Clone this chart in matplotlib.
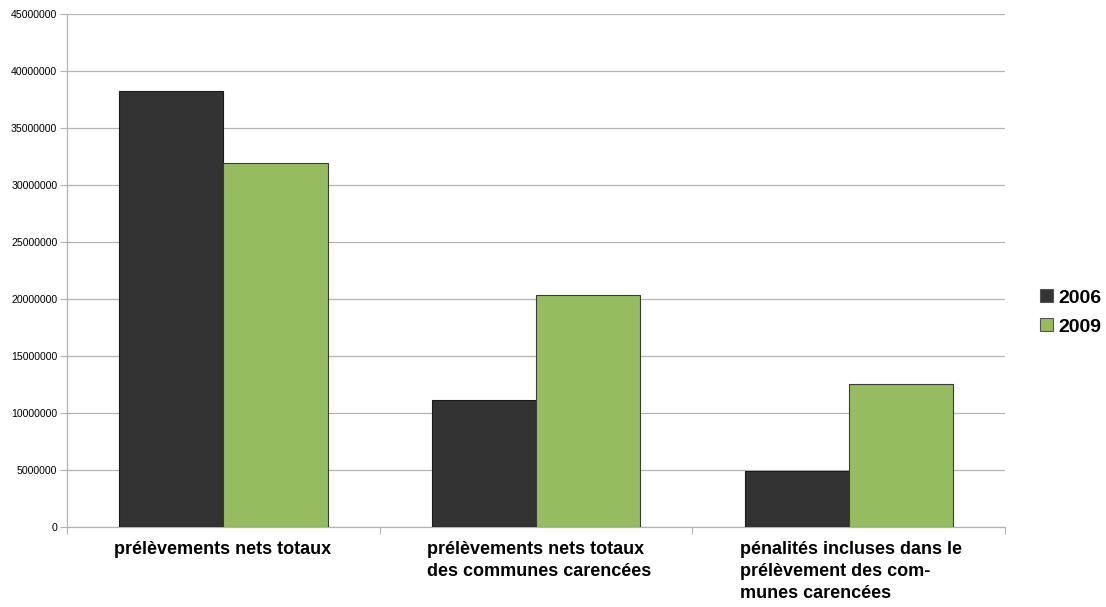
import numpy as np
import matplotlib
matplotlib.use("Agg")
import matplotlib.pyplot as plt
from matplotlib.patches import Patch

# data
categories = [
    "prélèvements nets totaux",
    "prélèvements nets totaux\ndes communes carencées",
    "pénalités incluses dans le\nprélèvement des com-\nmunes carencées",
]
years = ["2006", "2009"]
values_2006 = [38270000, 11140000, 4940000]
values_2009 = [31960000, 20320000, 12540000]
yticks = list(range(0, 45000001, 5000000))

colors = ["#333333", "#95bd5f"]

fig = plt.figure(figsize=(11.06, 6.07), dpi=100)
ax = fig.add_axes([0.0606, 0.1318, 0.8482, 0.8452])

x = np.arange(len(categories))
w = 1 / 3
ax.bar(x - w / 2, values_2006, width=w, color=colors[0], edgecolor="#1a1a1a",
       linewidth=0.8, zorder=3)
ax.bar(x + w / 2, values_2009, width=w, color=colors[1], edgecolor="#3a3a3a",
       linewidth=0.8, zorder=3)

ax.set_xlim(-0.5, len(categories) - 0.5)
ax.set_ylim(0, 45000000)
ax.set_yticks(yticks)
ax.set_yticklabels([str(v) for v in yticks], fontsize=7.6, family="Liberation Sans")
ax.yaxis.grid(True, color="#b3b3b3", linewidth=0.9, zorder=0)

# category separators as x ticks
ax.set_xticks(np.arange(-0.5, len(categories), 1.0))
ax.set_xticklabels([])
ax.tick_params(axis="x", length=5, color="#b3b3b3")
ax.tick_params(axis="y", length=5, color="#b3b3b3", pad=2)

for s in ["top", "right"]:
    ax.spines[s].set_visible(False)
for s in ["left", "bottom"]:
    ax.spines[s].set_color("#b3b3b3")
    ax.spines[s].set_linewidth(0.9)

# category labels, left-aligned blocks under each group
for i, lab in enumerate(categories):
    ax.text(i - w - 0.015, -0.028, lab, transform=ax.get_xaxis_transform(),
            ha="left", va="top", fontsize=13, fontweight="bold",
            family="Liberation Sans", linespacing=1.38)

handles = [Patch(facecolor=c, edgecolor="#555555", linewidth=0.8) for c in colors]
fig.legend(handles, years, loc="center left", bbox_to_anchor=(0.9403, 0.485),
           frameon=False, prop={"family": "Liberation Sans", "weight": "bold", "size": 14},
           borderpad=0, borderaxespad=0,
           handlelength=0.65, handleheight=0.65, handletextpad=0.3, labelspacing=0.6)

fig.savefig("out.png", dpi=100)
